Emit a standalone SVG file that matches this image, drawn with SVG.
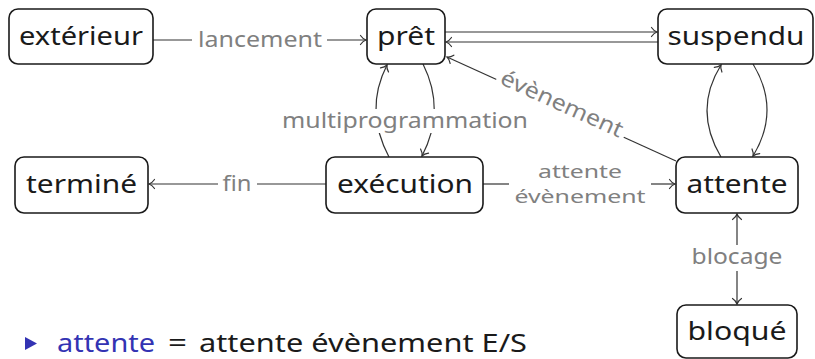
<svg xmlns="http://www.w3.org/2000/svg" width="815" height="359" viewBox="0 0 815 359">
<style>
.box{fill:#fff;stroke:#1a1a1a;stroke-width:1.6}
.nl{font-family:"Noto Sans","Open Sans",sans-serif;font-size:26px;fill:#1a1a1a;text-anchor:middle}
.el{font-family:"Noto Sans","Open Sans",sans-serif;font-size:22px;fill:#808080;text-anchor:middle}
.el2{font-family:"Noto Sans","Open Sans",sans-serif;font-size:18px;fill:#808080;text-anchor:middle}
.ln{fill:none;stroke:#333;stroke-width:1.2}
.bg{fill:#fff;stroke:none}
.bt{font-family:"Noto Sans","Open Sans",sans-serif;font-size:26px;fill:#1a1a1a}
</style>
<defs>
<marker id="arr" viewBox="-7 -7 9 14" refX="0" refY="0" markerWidth="9" markerHeight="14" markerUnits="userSpaceOnUse" orient="auto-start-reverse" overflow="visible">
<path d="M-5.5,-4.5 C-3.8,-2 -1.6,-0.5 0,0 C-1.6,0.5 -3.8,2 -5.5,4.5" fill="none" stroke="#333" stroke-width="1.2" stroke-linecap="round"/>
</marker>
</defs>
<rect width="815" height="359" fill="#fff"/>

<g id="connectors">
<!-- extérieur -> prêt -->
<line class="ln" x1="153" y1="40" x2="192" y2="40"/>
<line class="ln" x1="327" y1="40" x2="366" y2="40" marker-end="url(#arr)"/>
<text class="el" x="260" y="47" textLength="124" lengthAdjust="spacingAndGlyphs">lancement</text>
<!-- prêt <-> suspendu -->
<line class="ln" x1="445" y1="32" x2="657" y2="32" marker-end="url(#arr)"/>
<line class="ln" x1="658" y1="42" x2="446" y2="42" marker-end="url(#arr)"/>
<!-- attente -> prêt -->
<line class="ln" x1="676" y1="161" x2="447" y2="57" marker-end="url(#arr)"/>
<g transform="translate(561,106) rotate(24.4)">
<rect class="bg" x="-70" y="-12" width="140" height="22"/>
<text class="el" x="0" y="5" textLength="132" lengthAdjust="spacingAndGlyphs">évènement</text>
</g>
<!-- exécution <-> prêt -->
<path class="ln" d="M389,157 Q364,110 387,65" marker-end="url(#arr)"/>
<path class="ln" d="M423,64 Q446,110 422,156" marker-end="url(#arr)"/>
<rect class="bg" x="280" y="109" width="250" height="24"/>
<text class="el" x="405" y="128" textLength="246" lengthAdjust="spacingAndGlyphs">multiprogrammation</text>
<!-- exécution -> terminé -->
<line class="ln" x1="326" y1="184" x2="257" y2="184"/>
<line class="ln" x1="218" y1="184" x2="149" y2="184" marker-end="url(#arr)"/>
<text class="el" x="237" y="191" textLength="29" lengthAdjust="spacingAndGlyphs">fin</text>
<!-- exécution -> attente -->
<line class="ln" x1="483" y1="184" x2="509" y2="184"/>
<line class="ln" x1="651" y1="184" x2="675" y2="184" marker-end="url(#arr)"/>
<text class="el2" x="580" y="178" textLength="84" lengthAdjust="spacingAndGlyphs">attente</text>
<text class="el2" x="580" y="203" textLength="131" lengthAdjust="spacingAndGlyphs">évènement</text>
<!-- attente <-> suspendu -->
<path class="ln" d="M721,157 Q693,110 721,65" marker-end="url(#arr)"/>
<path class="ln" d="M753,64 Q781,110 753,156" marker-end="url(#arr)"/>
<!-- attente <-> bloqué -->
<line class="ln" x1="737" y1="214" x2="737" y2="304" marker-start="url(#arr)" marker-end="url(#arr)"/>
<rect class="bg" x="688" y="245" width="98" height="26"/>
<text class="el" x="737" y="264" textLength="91" lengthAdjust="spacingAndGlyphs">blocage</text>
</g>

<g id="exterieur">
<rect class="box" x="9" y="9" width="144" height="55" rx="9"/>
<text class="nl" x="81" y="45" textLength="124" lengthAdjust="spacingAndGlyphs">extérieur</text>
</g>
<g id="pret">
<rect class="box" x="367" y="9" width="78" height="55" rx="9"/>
<text class="nl" x="406" y="45" textLength="58" lengthAdjust="spacingAndGlyphs">prêt</text>
</g>
<g id="suspendu">
<rect class="box" x="658" y="9" width="155" height="55" rx="9"/>
<text class="nl" x="736" y="45" textLength="137" lengthAdjust="spacingAndGlyphs">suspendu</text>
</g>
<g id="termine">
<rect class="box" x="15" y="157" width="133" height="56" rx="9"/>
<text class="nl" x="81.5" y="193" textLength="111" lengthAdjust="spacingAndGlyphs">terminé</text>
</g>
<g id="execution">
<rect class="box" x="326" y="157" width="157" height="56" rx="9"/>
<text class="nl" x="405" y="193" textLength="136" lengthAdjust="spacingAndGlyphs">exécution</text>
</g>
<g id="attente">
<rect class="box" x="676" y="157" width="122" height="56" rx="9"/>
<text class="nl" x="737" y="193" textLength="101" lengthAdjust="spacingAndGlyphs">attente</text>
</g>
<g id="bloque">
<rect class="box" x="677" y="305" width="120" height="53" rx="9"/>
<text class="nl" x="737" y="340" textLength="99" lengthAdjust="spacingAndGlyphs">bloqué</text>
</g>

<g id="note">
<polygon points="25,337 37,343.5 25,350" fill="#3333b3"/>
<text class="bt" x="57" y="352" style="fill:#3333b3" textLength="98" lengthAdjust="spacingAndGlyphs">attente</text>
<text class="bt" x="168" y="352" textLength="19" lengthAdjust="spacingAndGlyphs">=</text>
<text class="bt" x="199" y="352" textLength="328" lengthAdjust="spacingAndGlyphs">attente évènement E/S</text>
</g>
</svg>
